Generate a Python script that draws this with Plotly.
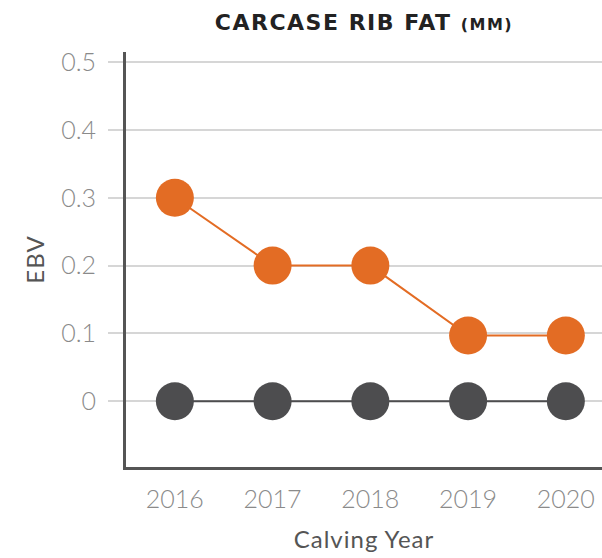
import plotly.graph_objects as go

years = [2016, 2017, 2018, 2019, 2020]
ebv_orange = [0.3, 0.2, 0.2, 0.097, 0.097]
ebv_base = [0, 0, 0, 0, 0]
y_ticks = [0, 0.1, 0.2, 0.3, 0.4, 0.5]
y_tick_labels = ["0", "0.1", "0.2", "0.3", "0.4", "0.5"]

fig = go.Figure()
fig.add_trace(go.Scatter(
    x=years, y=ebv_base, mode="lines+markers",
    line=dict(color="#4d4d4f", width=2),
    marker=dict(size=38, color="#4d4d4f"),
    showlegend=False, cliponaxis=False,
))
fig.add_trace(go.Scatter(
    x=years, y=ebv_orange, mode="lines+markers",
    line=dict(color="#e36c24", width=2),
    marker=dict(size=38, color="#e36c24"),
    showlegend=False, cliponaxis=False,
))

tick_font = dict(family="Lato", size=25, color="#8a8a8a", weight=300)
title_font = dict(family="Lato", size=24, color="#555555")

fig.update_layout(
    width=602, height=558,
    margin=dict(l=126, r=0, t=52, b=91, autoexpand=False),
    plot_bgcolor="white", paper_bgcolor="white",
    title=dict(
        text="<b><span style='letter-spacing:1.5px'>CARCASE RIB FAT </span>"
             "<span style='font-size:16px;letter-spacing:1.5px'>(MM)</span></b>",
        x=0.5, xref="paper", y=1 - 22 / 558, yref="container", yanchor="middle",
        font=dict(family="DejaVu Sans", size=22, color="#222222"),
    ),
    xaxis=dict(
        range=[2015.5, 2020.37], tickvals=years,
        ticktext=[str(y) for y in years],
        showgrid=False, zeroline=False,
        showline=True, linecolor="#555555", linewidth=3,
        ticks="", ticklen=0, ticklabelstandoff=8,
        tickfont=tick_font,
        title=dict(text="<span style='letter-spacing:1px'>Calving Year</span>",
                   standoff=20, font=title_font),
    ),
    yaxis=dict(
        range=[-0.097, 0.515], tickvals=y_ticks, ticktext=y_tick_labels,
        showgrid=True, gridcolor="#d6d6d6", gridwidth=1.5,
        zeroline=False,
        showline=True, linecolor="#555555", linewidth=3,
        ticks="outside", ticklen=15, tickcolor="#d6d6d6", tickwidth=1.5,
        ticklabelstandoff=7,
        tickfont=tick_font,
        title=dict(text="<span style='letter-spacing:1px'>EBV</span>",
                   standoff=10, font=title_font),
    ),
)

fig.write_html("out.html", config={"displayModeBar": False},
               post_script="document.body.style.margin='0px';")
